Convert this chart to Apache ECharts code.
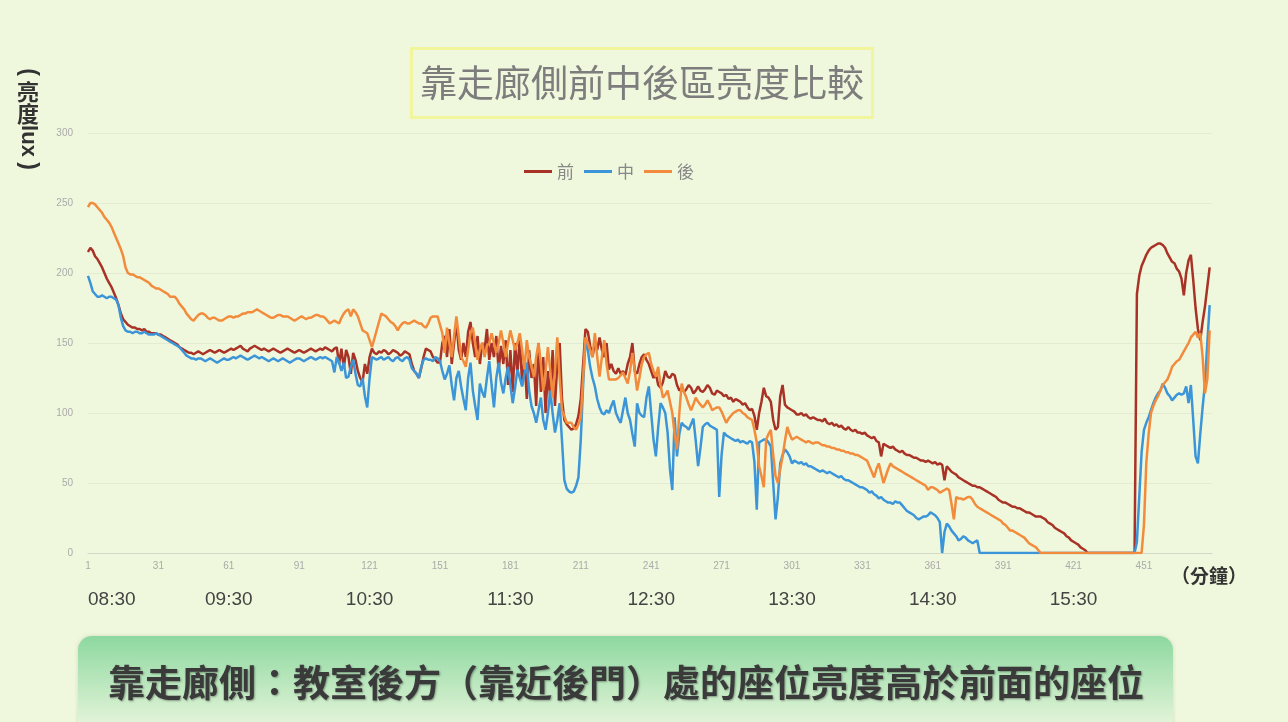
<!DOCTYPE html>
<html><head><meta charset="utf-8">
<script src="https://cdn.jsdelivr.net/npm/echarts@6/dist/echarts.min.js"></script>
<style>html,body{margin:0;padding:0;background:#eff8dc}#c{width:1288px;height:722px}</style>
</head><body><div id="c"></div>
<script>
const seriesNames = ['前', '中', '後'];
const timeLabels = ['08:30', '09:30', '10:30', '11:30', '12:30', '13:30', '14:30', '15:30'];
const categories = [];
for (let m = 1; m <= 480; m++) categories.push(String(m));

const front = [
215,218,216,212,210,207,204,200,196,193, 190,186,182,177,171,167,165,163,162,161, 161,160,160,159,160,158,158,157,157,157,
156,156,155,154,153,152,151,150,149,147, 146,145,144,143,143,142,143,144,143,142, 143,144,145,144,143,144,145,144,143,144,
145,146,145,146,147,148,146,145,144,146, 147,148,147,146,145,146,145,144,145,146, 145,144,143,144,145,146,145,144,143,144,
145,144,143,144,145,146,145,144,145,146, 145,147,146,145,144,146,147,135,146,132, 145,140,128,143,138,130,125,122,135,128,
140,146,143,142,144,143,145,144,142,143, 145,144,143,141,142,144,143,142,135,130, 128,125,132,140,146,145,144,140,138,136,
136,150,155,140,160,135,150,165,145,138, 150,140,158,165,150,140,155,135,150,145, 160,138,150,140,155,130,148,135,152,120,
145,115,150,128,155,120,140,110,145,125, 135,105,150,115,140,100,130,110,145,105, 135,150,110,95,92,90,88,89,92,98,
110,135,160,158,148,140,150,145,154,145, 140,150,131,135,130,128,132,128,130,127, 135,140,150,130,128,135,140,142,138,135,
130,125,128,120,118,122,130,126,125,128, 127,120,116,118,115,117,120,118,114,116, 119,116,115,117,120,118,114,113,116,115,
114,112,113,110,111,108,110,109,108,106, 107,104,102,103,98,88,100,108,118,112, 111,108,95,88,90,112,120,106,104,103,
102,101,99,99,100,98,99,97,96,97, 96,95,95,94,96,93,92,93,91,92, 90,91,89,88,90,88,87,88,86,86,
85,86,84,83,82,83,80,79,69,78, 77,76,75,76,74,73,72,73,71,70, 70,69,68,68,67,66,66,65,66,65,
64,65,63,64,63,52,62,60,58,57, 56,54,53,52,51,50,49,48,48,47, 47,46,45,44,43,42,41,40,38,37,
36,36,35,34,33,33,32,32,31,30, 29,29,28,27,26,26,26,25,24,22, 21,20,18,17,16,15,14,12,11,9,
8,7,6,4,3,2,0,0,0,0, 0,0,0,0,0,0,0,0,0,0, 0,0,0,0,0,0,0,185,198,205,
209,213,216,218,219,220,221,221,220,218, 214,211,208,207,203,201,196,184,200,209, 213,195,175,160,152,165,176,190,204,null
];

const middle = [
198,193,187,185,183,183,184,183,182,183, 183,182,181,177,168,162,159,158,158,157, 158,158,157,157,158,157,156,156,156,157,
156,155,154,153,152,151,150,149,148,147, 145,143,141,140,139,139,138,139,139,138, 137,138,139,138,137,136,137,138,139,138,
138,139,140,139,140,141,140,139,138,139, 140,141,140,139,140,139,138,137,138,139, 138,137,138,139,138,137,136,137,138,139,
139,138,137,138,139,140,139,138,139,140, 139,140,139,138,137,129,140,136,130,136, 125,126,133,138,128,120,119,125,112,104,
125,140,139,138,139,140,138,139,140,138, 137,139,140,138,137,139,140,138,132,130, 128,125,133,138,139,138,138,137,140,139,
137,130,124,128,134,120,109,125,130,119, 110,102,125,136,116,105,95,121,115,111, 125,137,120,104,125,136,122,114,125,133,
120,107,118,131,125,119,128,136,116,105, 100,93,102,111,95,88,100,116,100,86, 95,107,80,52,46,44,43,44,48,54,
81,120,152,145,133,125,119,110,104,100, 99,102,100,105,109,100,96,93,102,111, 100,95,85,76,107,100,98,97,111,119,
100,81,69,90,107,104,100,86,60,45, 97,69,85,93,91,90,88,92,96,80, 62,75,90,92,93,91,90,89,88,40,
70,86,84,83,82,81,80,81,79,80, 79,78,80,79,65,31,79,80,81,81, 79,76,50,24,40,64,70,74,72,69,
64,66,65,64,65,63,64,62,62,61, 60,59,58,59,58,57,58,57,56,55, 54,55,53,52,52,51,50,49,48,47,
47,46,45,43,44,42,41,39,40,38, 37,36,36,35,37,36,36,34,32,30, 29,28,27,25,24,25,26,26,27,29,
28,27,25,22,0,15,21,19,16,14, 12,9,10,12,11,9,8,7,8,9, 0,0,0,0,0,0,0,0,0,0,
0,0,0,0,0,0,0,0,0,0, 0,0,0,0,0,0,0,0,0,0, 0,0,0,0,0,0,0,0,0,0,
0,0,0,0,0,0,0,0,0,0, 0,0,0,0,0,0,0,0,0,0, 0,0,0,0,0,0,0,8,40,72,
88,93,97,102,107,111,114,116,121,118, 114,112,109,111,113,114,113,114,119,107, 120,95,69,64,85,104,121,150,177,null
];

const back = [
247,250,250,249,247,245,243,240,238,236, 233,229,225,221,217,212,204,200,199,199, 198,197,197,196,195,194,193,191,190,189,
189,188,187,186,185,183,183,183,181,178, 176,174,171,169,167,166,168,170,171,171, 170,168,167,168,168,167,166,166,167,168,
169,169,168,169,169,170,171,171,172,172, 172,173,174,173,172,171,170,169,168,168, 169,170,170,169,169,169,168,167,166,167,
168,169,168,167,168,168,169,170,170,169, 169,168,166,164,165,166,165,164,168,171, 173,174,169,174,172,169,164,159,158,157,
152,147,153,159,165,171,170,169,167,165, 164,162,159,162,164,165,164,164,165,166, 165,164,164,162,161,164,168,169,169,169,
163,157,143,161,150,140,155,169,155,140, 137,133,145,157,161,150,138,145,150,140, 148,150,157,150,143,150,159,150,140,150,
159,152,145,150,157,145,131,152,140,133, 126,140,150,135,116,130,147,130,111,130, 154,125,102,98,93,93,93,90,88,92,
97,125,154,150,145,140,157,140,126,140, 152,135,124,124,124,124,125,127,129,125, 121,130,143,130,116,125,135,140,142,143,
135,130,126,133,120,111,113,116,108,100, 85,74,100,121,115,111,106,102,106,111, 108,106,104,106,109,106,102,103,104,104,
101,97,93,96,98,100,101,102,102,100, 99,97,96,95,88,79,62,55,47,81, 85,88,70,55,50,60,69,80,90,85,
81,82,83,82,81,80,79,80,79,78, 79,79,78,77,77,76,76,75,75,74, 74,73,73,72,72,71,71,70,70,69,
68,67,66,62,58,54,60,64,57,50, 55,60,64,62,61,60,59,58,57,56, 55,54,53,52,51,50,49,48,45,47,
47,46,45,43,44,45,46,45,35,24, 40,39,39,38,39,40,40,38,35,33, 32,31,30,29,28,27,26,25,24,23,
21,20,18,16,16,15,14,13,12,11, 9,7,6,5,4,2,0,0,0,0, 0,0,0,0,0,0,0,0,0,0,
0,0,0,0,0,0,0,0,0,0, 0,0,0,0,0,0,0,0,0,0, 0,0,0,0,0,0,0,0,0,0,
20,64,85,100,105,109,112,116,120,122, 124,128,133,135,137,138,141,144,147,150, 154,156,158,154,157,140,114,124,159,null
];

const seriesData = [front, middle, back];
const seriesColors = ['#a93226', '#3b95d8', '#f28b3c'];

const cjk = '"Noto Sans CJK TC", "Noto Sans CJK SC", sans-serif';
const latin = '"Liberation Sans", Arial, sans-serif';
const yNameFont = 'bold 22px ' + cjk;

const chart = echarts.init(document.getElementById('c'), null, {renderer: 'canvas'});
const option = {
  backgroundColor: '#eff8dc',
  animation: false,
  title: {
    text: '靠走廊側前中後區亮度比較',
    left: 411, top: 48,
    padding: [16, 9, 17, 9],
    borderColor: '#f1f59c', borderWidth: 3,
    textStyle: {fontFamily: cjk, fontWeight: 'normal', fontSize: 37, color: '#7d7d7d'}
  },
  legend: {
    top: 158, left: 519,
    icon: 'rect', itemWidth: 28, itemHeight: 3, itemGap: 10,
    textStyle: {fontFamily: cjk, fontSize: 17, color: '#888'},
    data: seriesNames
  },
  grid: {left: 88, right: 76, top: 133, bottom: 169},
  xAxis: [{
    type: 'category', data: categories, boundaryGap: false,
    axisLine: {lineStyle: {color: '#d3d8c8'}},
    axisTick: {show: false},
    axisLabel: {interval: 29, fontSize: 10, color: '#aaa', margin: 8, fontFamily: latin}
  }, {
    type: 'category', data: categories, boundaryGap: false, position: 'bottom',
    axisLine: {show: false}, axisTick: {show: false}, splitLine: {show: false},
    axisLabel: {
      interval: function (i) { return i % 60 === 0; },
      formatter: function (v, i) { return timeLabels[i / 60] || ''; },
      fontSize: 19, color: '#444', margin: 37, fontFamily: latin,
      alignMinLabel: 'left'
    }
  }],
  yAxis: {
    type: 'value', min: 0, max: 300, interval: 50,
    axisLine: {show: false}, axisTick: {show: false},
    splitLine: {lineStyle: {color: '#e3ebd3'}},
    axisLabel: {fontSize: 10, color: '#aaa', margin: 15, fontFamily: latin}
  },
  series: seriesNames.map(function (n, k) {
    return {
      name: n, type: 'line', data: seriesData[k], xAxisIndex: 0,
      showSymbol: false, symbol: 'none',
      lineStyle: {width: 2.5, color: seriesColors[k]},
      itemStyle: {color: seriesColors[k]}
    };
  }),
  graphic: [
    {type: 'text', x: 28, y: 72, rotation: -Math.PI / 2, style: {text: '(', font: 'bold 23px ' + latin, fill: '#333', textAlign: 'center', textVerticalAlign: 'middle'}},
    {type: 'text', x: 28, y: 92, style: {text: '亮', font: yNameFont, fill: '#333', textAlign: 'center', textVerticalAlign: 'middle'}},
    {type: 'text', x: 28, y: 114, style: {text: '度', font: yNameFont, fill: '#333', textAlign: 'center', textVerticalAlign: 'middle'}},
    {type: 'text', x: 28, y: 141, rotation: -Math.PI / 2, style: {text: 'lux', font: 'bold 22px ' + latin, fill: '#333', textAlign: 'center', textVerticalAlign: 'middle'}},
    {type: 'text', x: 28, y: 166, rotation: -Math.PI / 2, style: {text: ')', font: 'bold 23px ' + latin, fill: '#333', textAlign: 'center', textVerticalAlign: 'middle'}},
    {type: 'text', left: 1171, top: 566, style: {text: '（分鐘）', font: 'bold 19px ' + cjk, fill: '#333'}},
    {
      type: 'rect', shape: {x: 78, y: 636, width: 1095, height: 110, r: 14},
      style: {
        fill: new echarts.graphic.LinearGradient(0, 0, 0, 1, [
          {offset: 0, color: '#8dd8a0'}, {offset: 0.8, color: '#e3f4d8'}, {offset: 1, color: '#eef8e4'}
        ]),
        shadowBlur: 4, shadowColor: 'rgba(0,0,0,0.12)'
      }
    },
    {
      type: 'text', x: 626, y: 683,
      style: {
        text: '靠走廊側：教室後方（靠近後門）處的座位亮度高於前面的座位',
        font: 'bold 37px ' + cjk, fill: '#3a3a3a', textAlign: 'center', textVerticalAlign: 'middle',
        textShadowColor: 'rgba(0,0,0,0.35)', textShadowBlur: 2, textShadowOffsetX: 1, textShadowOffsetY: 1
      }
    }
  ]
};
chart.setOption(option);
</script></body></html>
